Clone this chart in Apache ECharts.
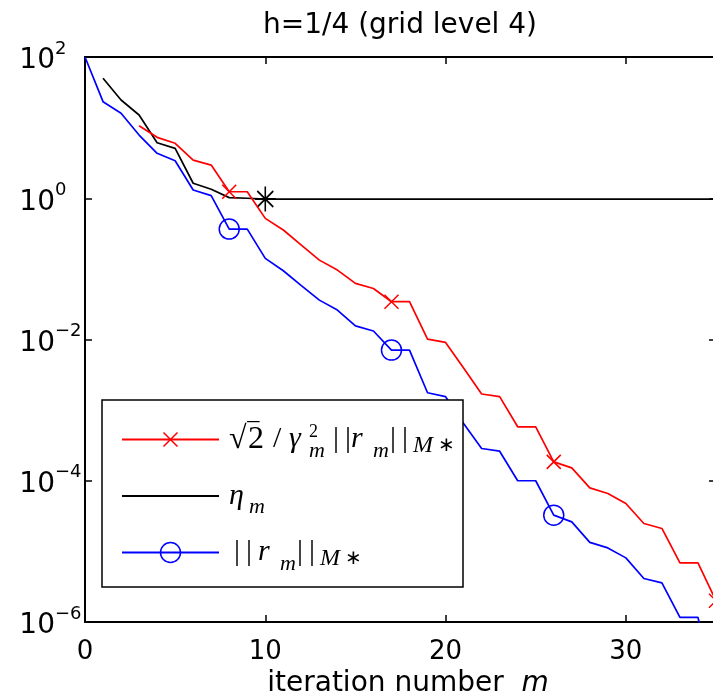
<!DOCTYPE html>
<html><head><meta charset="utf-8">
<script src="https://cdn.jsdelivr.net/npm/echarts@6/dist/echarts.min.js"></script>
<style>html,body{margin:0;padding:0;background:#fff}#c{width:713px;height:698px}</style>
</head><body><div id="c"></div>
<script>
// ---- data ----
const iterations = [0,1,2,3,4,5,6,7,8,9,10,11,12,13,14,15,16,17,18,19,20,21,22,23,24,25,26,27,28,29,30,31,32,33,34,35];
const boundEst = [null,null,null,10.6,7.29,6.0,3.47,2.95,1.236,1.236,0.519,0.355,0.217,0.133,0.0962,0.0622,0.0528,0.0343,0.0343,0.01014,0.0091,0.00394,0.00169,0.00155,5.81e-4,5.81e-4,1.85e-4,1.52e-4,7.94e-5,6.61e-5,4.76e-5,2.48e-5,2.11e-5,6.89e-6,6.89e-6,2.0e-6];
const eta = [null,49.9,24.6,15.1,6.11,5.09,1.63,1.34,1.02,1.0,0.975,0.975,0.975,0.975,0.975,0.975,0.975,0.975,0.975,0.975,0.975,0.975,0.975,0.975,0.975,0.975,0.975,0.975,0.975,0.975,0.975,0.975,0.975,0.975,0.975,0.975];
const resNorm = [100,23.3,16.0,7.85,4.33,3.40,1.31,1.09,0.366,0.366,0.141,0.094,0.058,0.0361,0.0261,0.0156,0.0132,0.00708,0.00708,0.00176,0.00155,6.49e-4,2.86e-4,2.62e-4,1.0e-4,1.0e-4,3.26e-5,2.62e-5,1.34e-5,1.12e-5,8.09e-6,4.13e-6,3.58e-6,1.16e-6,1.16e-6,1.0e-7];
const markerIters = [8,17,26,35];
const starIters = [10];
const xTickLabels = ['0','10','20','30'];
const yTickExponents = [-6,-4,-2,0,2];
const titleText = 'h=1/4 (grid level 4)';
const xAxisName = 'iteration number  ';
const seriesNames = ['bound','eta','res'];

const pairs = arr => iterations.map((x,i)=>[x,arr[i]]).filter(d=>d[1]!=null);
const crossPath = 'path://M-10,-10M10,10M-7,-7L7,7M-7,7L7,-7';
const starPath = 'path://M0,-12.5L0,12.5M-10.5,0L10.5,0M-8,-8L8,8M-8,8L8,-8';

const serif = 'Liberation Serif';
const legendLabels = {
  bound: '{rad|√}{ov|‾}{two|2}{sl|/}{g|γ}{sup|2}{m1|m}{b1||}{b2||}{r|r}{m2|m}{b1||}{b3||}{M|M}{st|∗}',
  eta: '{eta|η}{m1|m}',
  res: '{b0||}{b1||}{r|r}{m2|m}{b1||}{b3||}{M|M}{st|∗}'
};
const base = {fontFamily:serif,fontSize:30,lineHeight:30,color:'#000',align:'left'};
const ital = Object.assign({},base,{fontStyle:'italic'});
const subm = Object.assign({},ital,{fontSize:22,lineHeight:17,padding:[23,0,0,0]});
const legendRich = {
  rad:Object.assign({},base,{fontSize:32,width:19}),
  ov:Object.assign({},base,{fontSize:32,lineHeight:30,width:0,padding:[0,0,4,0]}),
  two:Object.assign({},base,{fontSize:32,width:25}),
  sl:Object.assign({},base,{width:16}),
  g:Object.assign({},ital,{width:20}),
  sup:Object.assign({},base,{fontSize:18,lineHeight:16,width:0,padding:[0,0,14,0]}),
  m1:Object.assign({},subm,{width:24}),
  m2:Object.assign({},subm,{width:17}),
  b0:Object.assign({},base,{width:12,padding:[0,0,0,5]}),
  b1:Object.assign({},base,{width:12}),
  b2:Object.assign({},base,{width:6}),
  b3:Object.assign({},base,{width:11}),
  r:Object.assign({},ital,{width:22}),
  eta:Object.assign({},ital,{width:20}),
  M:Object.assign({},ital,{fontSize:24,lineHeight:20,width:25,padding:[12,0,0,0]}),
  st:Object.assign({},base,{fontSize:20,lineHeight:20,width:10,padding:[13,0,0,0]})
};

const chart = echarts.init(document.getElementById('c'), null, {renderer:'canvas'});
const axisCommon = {
  axisLine:{show:true,onZero:false,lineStyle:{color:'#000',width:2}},
  axisTick:{show:true,inside:true,length:7,lineStyle:{color:'#000',width:1.5}},
  splitLine:{show:false}, minorTick:{show:false}
};
chart.setOption({
  animation:false,
  backgroundColor:'#fff',
  title:{text:titleText,left:400,top:12,textAlign:'center',padding:0,
    textStyle:{fontFamily:'DejaVu Sans',fontSize:28,fontWeight:'normal',color:'#000'}},
  grid:{left:85,top:57,width:631,height:565,outerBoundsMode:'none',containLabel:false},
  xAxis:[
    Object.assign({type:'value',min:0,max:35,interval:10,position:'bottom',
      name:'{a|'+xAxisName+'}{m|m}',nameLocation:'middle',nameGap:47,
      nameTextStyle:{padding:[0,0,0,15],rich:{
        a:{fontFamily:'DejaVu Sans',fontSize:28,color:'#000'},
        m:{fontFamily:'DejaVu Sans',fontStyle:'italic',fontSize:28,color:'#000'}}},
      axisLabel:{show:true,margin:17,fontFamily:'DejaVu Sans',fontSize:26,color:'#000',
        formatter:v=>xTickLabels[Math.round(v/10)]}},axisCommon),
    Object.assign({type:'value',min:0,max:35,interval:10,position:'top',axisLabel:{show:false}},axisCommon)
  ],
  yAxis:[
    Object.assign({type:'log',logBase:10,min:1e-6,max:100,interval:2,position:'left',
      axisLabel:{show:true,margin:30,align:'right',
        formatter:v=>{const e=Math.round(Math.log10(v));
          if(!yTickExponents.includes(e)) return '';
          return '{b|10}{e|'+(e<0?'−'+(-e):e)+'}';},
        rich:{
          b:{fontFamily:'DejaVu Sans',fontSize:28,lineHeight:28,color:'#000',align:'left',padding:[8,0,0,0]},
          e:{fontFamily:'DejaVu Sans',fontSize:18,lineHeight:20,color:'#000',align:'left',width:0,padding:[0,0,16,0]}
        }}},axisCommon),
    Object.assign({type:'log',logBase:10,min:1e-6,max:100,interval:2,position:'right',axisLabel:{show:false}},axisCommon)
  ],
  legend:{
    orient:'vertical',left:102,top:400,
    backgroundColor:'#fff',borderColor:'#000',borderWidth:1.5,borderRadius:0,
    padding:[17,8,12,19],
    itemWidth:97,itemHeight:25,itemGap:11.5,
    selectedMode:false,
    formatter:n=>legendLabels[n],
    data:[
      {name:'bound',itemStyle:{color:'rgba(0,0,0,0)',borderColor:'#ff0000',borderWidth:1.5}},
      {name:'eta',itemStyle:{opacity:0}},
      {name:'res',itemStyle:{color:'rgba(0,0,0,0)',borderColor:'#0000ff',borderWidth:1.5}}
    ],
    textStyle:{color:'#000',padding:[0,0,0,5],rich:legendRich}
  },
  series:[
    {name:'bound',type:'line',data:pairs(boundEst),xAxisIndex:0,yAxisIndex:0,
      symbol:crossPath,symbolSize:v=>markerIters.includes(v[0])?20:0,showAllSymbol:true,
      lineStyle:{color:'#ff0000',width:1.7},
      itemStyle:{color:'rgba(0,0,0,0)',borderColor:'#ff0000',borderWidth:1.5},
      emphasis:{disabled:true},z:3},
    {name:'eta',type:'line',data:pairs(eta),xAxisIndex:0,yAxisIndex:0,
      symbol:starPath,symbolSize:v=>starIters.includes(v[0])?[21,25]:0,showAllSymbol:true,
      lineStyle:{color:'#000',width:1.7},
      itemStyle:{color:'rgba(0,0,0,0)',borderColor:'#000',borderWidth:1.7},
      emphasis:{disabled:true},z:2},
    {name:'res',type:'line',data:pairs(resNorm),xAxisIndex:0,yAxisIndex:0,
      symbol:'circle',symbolSize:v=>markerIters.includes(v[0])?20:0,showAllSymbol:true,
      lineStyle:{color:'#0000ff',width:1.7},
      itemStyle:{color:'rgba(0,0,0,0)',borderColor:'#0000ff',borderWidth:1.5},
      emphasis:{disabled:true},z:3}
  ]
});
</script></body></html>
